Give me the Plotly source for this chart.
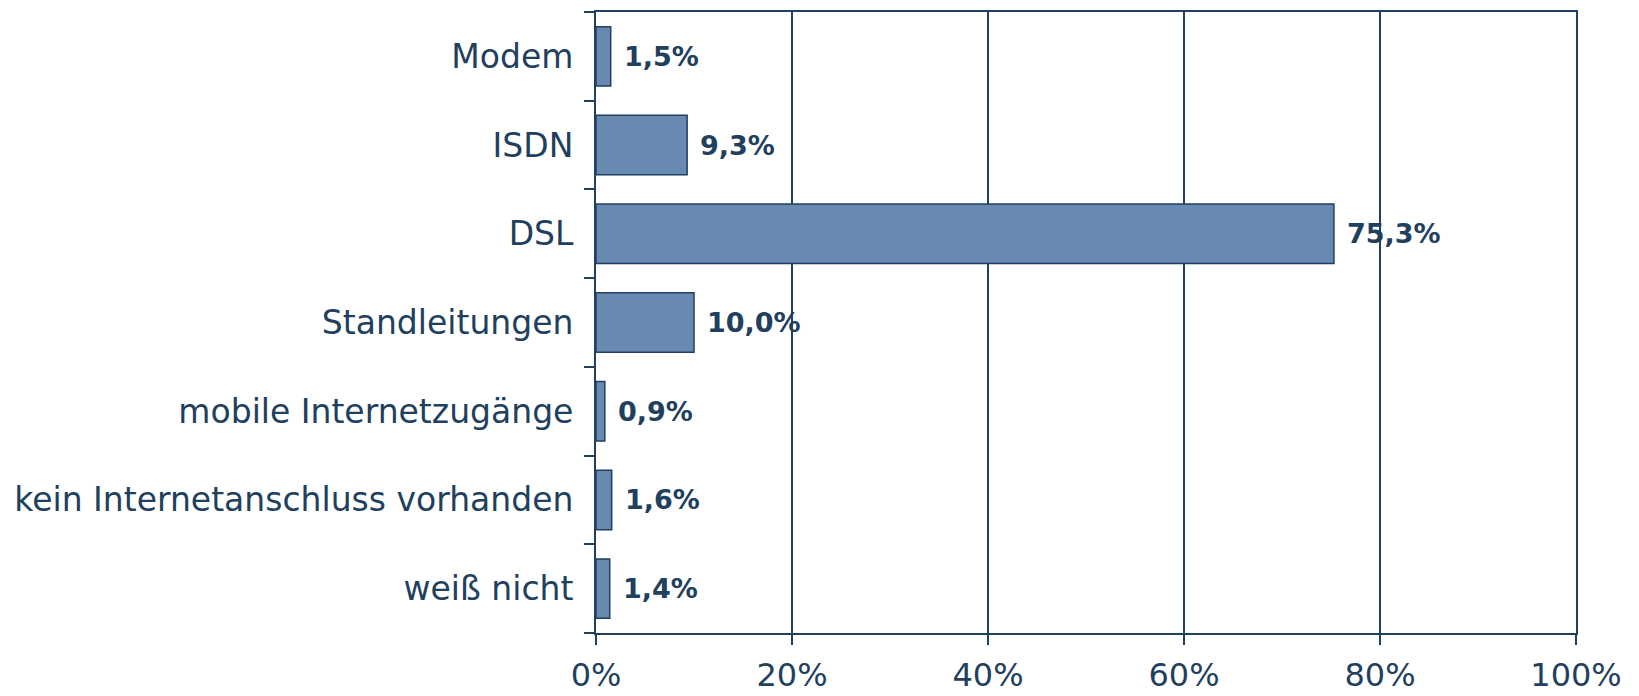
import plotly.graph_objects as go

categories = ["Modem", "ISDN", "DSL", "Standleitungen", "mobile Internetzugänge",
              "kein Internetanschluss vorhanden", "weiß nicht"]
values = [1.5, 9.3, 75.3, 10.0, 0.9, 1.6, 1.4]
value_labels = ["1,5%", "9,3%", "75,3%", "10,0%", "0,9%", "1,6%", "1,4%"]
x_ticks = [0, 20, 40, 60, 80, 100]
x_tick_labels = ["0%", "20%", "40%", "60%", "80%", "100%"]

dark = "#213f5e"
fill = "#6789b2"

fig = go.Figure()
fig.add_trace(go.Bar(
    y=categories, x=values, orientation="h",
    marker=dict(color=fill, line=dict(color=dark, width=1.5)),
    width=0.67, hoverinfo="skip",
))
for c, v, t in zip(categories, values, value_labels):
    fig.add_annotation(x=v, y=c, text="<b>%s</b>" % t, showarrow=False,
                       xanchor="left", xshift=11,
                       font=dict(family="DejaVu Sans", size=27, color=dark))

fig.update_layout(
    width=1639, height=696,
    margin=dict(l=588, r=71, t=2, b=71),
    paper_bgcolor="white", plot_bgcolor="white",
    showlegend=False, bargap=0.33,
    font=dict(family="DejaVu Sans", color=dark),
)
fig.update_xaxes(
    range=[0, 100], tickvals=x_ticks, ticktext=x_tick_labels,
    showgrid=True, gridcolor=dark, gridwidth=1.5,
    showline=True, linecolor=dark, linewidth=2, mirror=True,
    ticks="outside", ticklen=10, tickcolor=dark, tickwidth=1.5,
    tickfont=dict(family="DejaVu Sans", size=32, color=dark),
    ticklabelstandoff=3, zeroline=False, fixedrange=True,
)
fig.update_yaxes(
    categoryorder="array", categoryarray=categories[::-1],
    type="category",
    range=[-0.5, len(categories) - 0.5],
    showline=True, linecolor=dark, linewidth=2, mirror=True,
    ticks="outside", ticklen=10, tickcolor=dark, tickwidth=1.5,
    tickson="boundaries", showgrid=False,
    tickfont=dict(family="DejaVu Sans", size=33, color=dark),
    ticklabelstandoff=14, fixedrange=True,
)
fig.write_html("out.html")
